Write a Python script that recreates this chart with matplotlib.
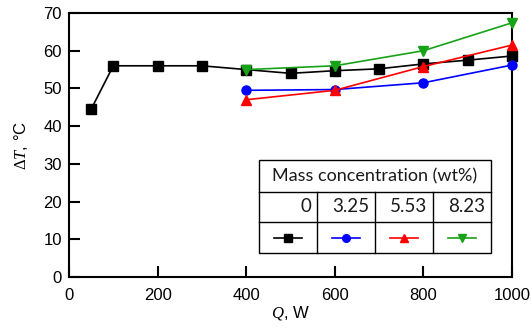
import matplotlib.pyplot as plt
from matplotlib.lines import Line2D

plt.rcParams['font.family'] = ['Liberation Sans', 'DejaVu Sans']
plt.rcParams['mathtext.fontset'] = 'custom'
plt.rcParams['mathtext.it'] = 'Liberation Serif:italic'
plt.rcParams['mathtext.rm'] = 'Liberation Serif'

# data
q_base = [50, 100, 200, 300, 400, 500, 600, 700, 800, 900, 1000]
dt_base = [44.5, 56.0, 56.0, 56.0, 55.0, 54.0, 54.7, 55.2, 56.5, 57.5, 58.6]
q_nano = [400, 600, 800, 1000]
dt_325 = [49.5, 49.7, 51.5, 56.2]
dt_553 = [47.0, 49.5, 55.8, 61.5]
dt_823 = [55.0, 56.0, 60.0, 67.4]

concs = ['0', '3.25', '5.53', '8.23']
colors = ['black', 'blue', 'red', '#17a317']
markers = ['s', 'o', '^', 'v']
msizes = [7, 6.5, 7, 7]

fig = plt.figure(figsize=(5.32, 3.34), dpi=100)
ax = fig.add_axes([69 / 532, 1 - 277 / 334, 443 / 532, 264 / 334])

series = [(q_base, dt_base), (q_nano, dt_325), (q_nano, dt_553), (q_nano, dt_823)]
for (x, y), c, m, ms in zip(series, colors, markers, msizes):
    ax.plot(x, y, color=c, marker=m, ms=ms, lw=1.2, clip_on=False, zorder=3)

ax.set_xlim(0, 1000)
ax.set_ylim(0, 70)
ax.set_xticks(range(0, 1001, 200))
ax.set_yticks(range(0, 71, 10))
ax.tick_params(direction='in', length=8, width=1.5, labelsize=12, pad=5)
ax.tick_params(axis='x', pad=8)
for s in ax.spines.values():
    s.set_linewidth(1.5)
ax.set_xlabel(r'$Q$, W', fontsize=12, labelpad=1)
ax.set_ylabel(r'$\Delta T$, °C', fontsize=12, labelpad=10)

# legend drawn as a small table in axes coordinates
def px(x, y):
    return ((x - 69) / 443, (277 - y) / 264)

tab_kw = dict(transform=ax.transAxes, color='black', lw=1.0, clip_on=False, zorder=5)
x0, x1 = 259, 491
ys = [160, 192, 222, 253]
xs = [259, 317, 375, 433, 491]
bg = plt.Rectangle(px(x0, ys[-1]), (x1 - x0) / 443, (ys[-1] - ys[0]) / 264,
                   transform=ax.transAxes, facecolor='white', edgecolor='black',
                   lw=1.0, zorder=4)
ax.add_patch(bg)
for y in ys[1:-1]:
    a, b = px(x0, y), px(x1, y)
    ax.add_line(Line2D([a[0], b[0]], [a[1], b[1]], **tab_kw))
for x in xs[1:-1]:
    a, b = px(x, ys[1]), px(x, ys[-1])
    ax.add_line(Line2D([a[0], b[0]], [a[1], b[1]], **tab_kw))

tfont = ['Lato', 'DejaVu Sans']
hx, hy = px((x0 + x1) / 2, (ys[0] + ys[1]) / 2)
ax.text(hx, hy, 'Mass concentration (wt%)', transform=ax.transAxes, ha='center',
        va='center', fontsize=13, family=tfont, color='#1a1a1a', zorder=6)
for i, lab in enumerate(concs):
    tx, ty = px(xs[i + 1] - 6, (ys[1] + ys[2]) / 2)
    ax.text(tx, ty, lab, transform=ax.transAxes, ha='right', va='center',
            fontsize=13.5, family=tfont, color='#1a1a1a', zorder=6)
    cx = (xs[i] + xs[i + 1]) / 2
    la, lb = px(cx - 14, (ys[2] + ys[3]) / 2), px(cx + 14, (ys[2] + ys[3]) / 2)
    ax.add_line(Line2D([la[0], lb[0]], [la[1], lb[1]], color=colors[i], lw=1.2,
                       transform=ax.transAxes, clip_on=False, zorder=6))
    mc = px(cx, (ys[2] + ys[3]) / 2)
    ax.add_line(Line2D([mc[0]], [mc[1]], color=colors[i], marker=markers[i],
                       ms=msizes[i] - 1, transform=ax.transAxes, clip_on=False,
                       zorder=6))

fig.savefig('out.png', dpi=100)
